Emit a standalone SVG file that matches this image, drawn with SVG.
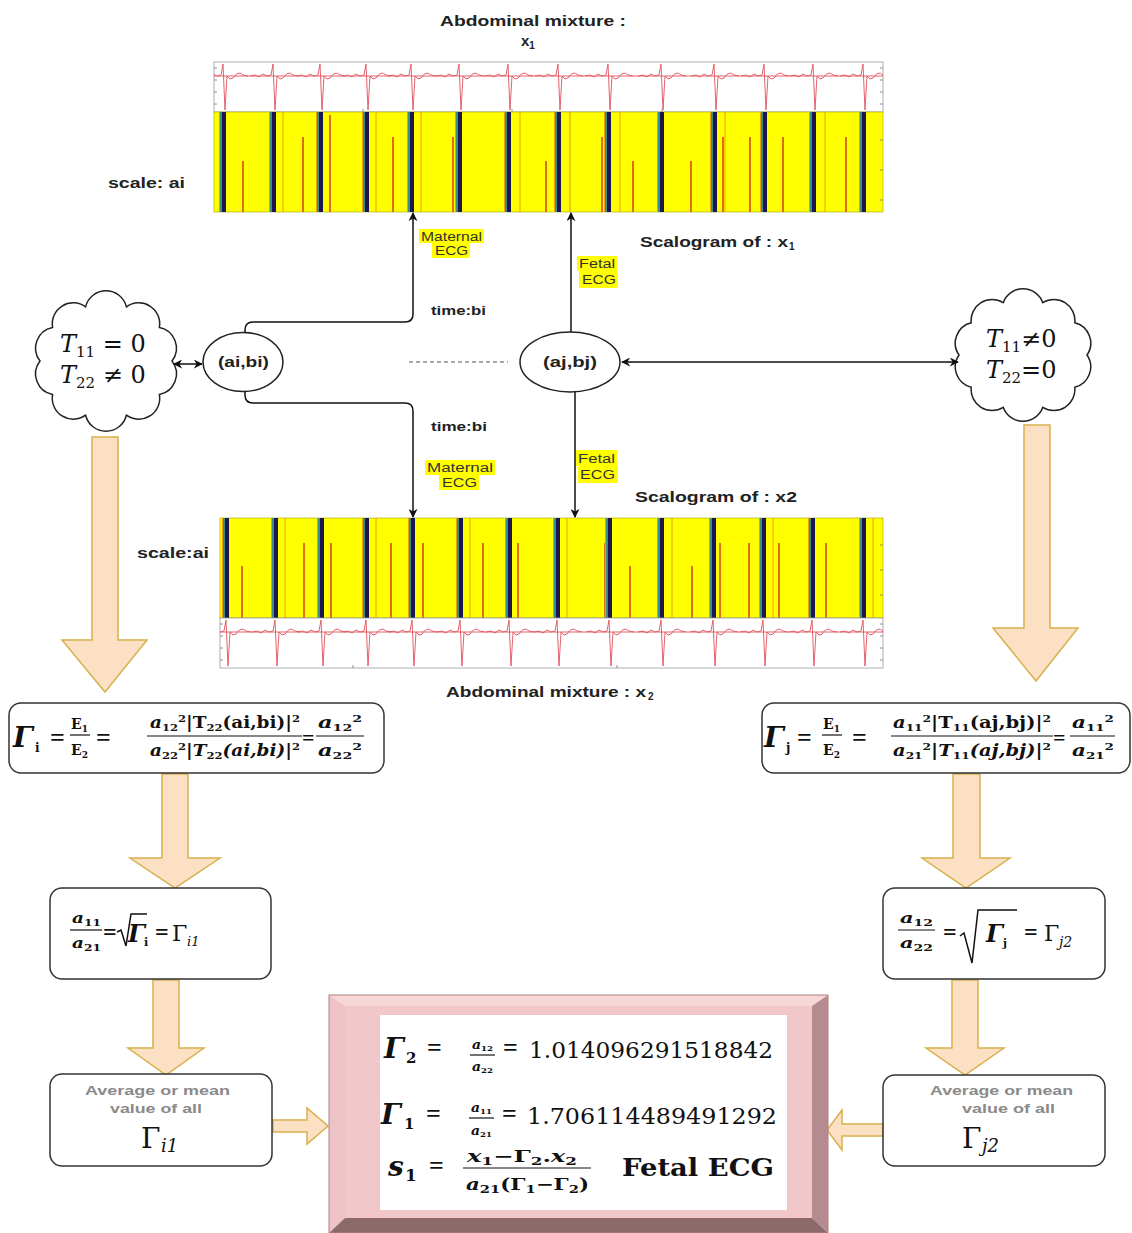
<svg xmlns="http://www.w3.org/2000/svg" xmlns:xlink="http://www.w3.org/1999/xlink" width="1132" height="1233" viewBox="0 0 1132 1233">
<style>
.lbl{font-family:"Liberation Sans",Arial,sans-serif;font-weight:bold;fill:#222}
.sm{font-family:"Liberation Sans",Arial,sans-serif;font-size:12px;fill:#333}
.gr{font-family:"Liberation Sans",Arial,sans-serif;font-weight:bold;font-size:13px;fill:#8a8a8a}
.m{font-family:"DejaVu Serif","Liberation Serif",serif;fill:#111}
.eq{font-family:"Liberation Serif","DejaVu Serif",serif;font-weight:bold;fill:#111}
.mb{font-family:"DejaVu Serif","Liberation Serif",serif;font-weight:bold;fill:#111}
.mbi{font-family:"DejaVu Serif","Liberation Serif",serif;font-weight:bold;font-style:italic;fill:#111}
.box{fill:#fff;stroke:#333;stroke-width:1.5}
.fl{stroke:#111;stroke-width:1.2}
.hl{fill:#ffff00}
.conn{fill:none;stroke:#111;stroke-width:1.5}
.barrow{fill:#fce0c4;stroke:#d8b04c;stroke-width:1.5}
.ecg{fill:none;stroke:#e0505a;stroke-width:0.9}
.rl{stroke:#d2321a;stroke-width:1.4}
.ol{stroke:#f0a000;stroke-width:1}
.panel{fill:#fff;stroke:#9a9a9a;stroke-width:0.8}
.cloud{fill:#fff;stroke:#222;stroke-width:1.5}
</style>
<defs>
<marker id="ah" viewBox="0 0 10 10" refX="9" refY="5" markerWidth="9" markerHeight="9" markerUnits="userSpaceOnUse" orient="auto-start-reverse">
<path d="M0,0 L10,5 L0,10 L3,5 Z" fill="#111"/>
</marker>
<clipPath id="clipTop"><rect x="214" y="62" width="669" height="50"/></clipPath>
<clipPath id="clipBot"><rect x="220" y="618" width="663" height="50"/></clipPath>
<path id="beat" class="ecg" d="M -24 1 L -19 0 L -15 2 L -11 -1 L -7 1 L -3 0 L -1 -11 L 1 35 L 3 1 L 6 4 L 9 3 Q 14 -5 19 0 L 24 1"/>
<g id="sbar">
<rect x="-5" y="0" width="1" height="100" fill="#f0a000"/>
<rect x="-4" y="0" width="2" height="100" fill="#3a8f80"/>
<rect x="-2" y="0" width="4" height="100" fill="#1d1650"/>
</g>
</defs>

<!-- Top plot: abdominal mixture x1 -->
<g id="plot-x1">
<text class="lbl" x="440" y="26" font-size="15" textLength="186" lengthAdjust="spacingAndGlyphs">Abdominal mixture :</text>
<text class="lbl" x="521" y="46" font-size="15">x<tspan font-size="10" dy="3">1</tspan></text>
<rect class="panel" x="214" y="62" width="669" height="50"/>
<g clip-path="url(#clipTop)">
<line x1="214" y1="76" x2="883" y2="76" class="ecg"/>
<use href="#beat" x="224" y="75"/><use href="#beat" x="274" y="75"/><use href="#beat" x="321" y="75"/><use href="#beat" x="367" y="75"/><use href="#beat" x="412" y="75"/><use href="#beat" x="460" y="75"/><use href="#beat" x="509" y="75"/><use href="#beat" x="559" y="75"/><use href="#beat" x="609" y="75"/><use href="#beat" x="662" y="75"/><use href="#beat" x="715" y="75"/><use href="#beat" x="765" y="75"/><use href="#beat" x="814" y="75"/><use href="#beat" x="864" y="75"/>
</g>
<path d="M214 68h3M214 80h3M214 92h3M214 104h3M883 68h-3M883 80h-3M883 92h-3M883 104h-3M363 112v-3M512 112v-3M662 112v-3" stroke="#777" stroke-width="0.8"/>
<rect x="214" y="112" width="669" height="100" fill="#ffff00" stroke="#a0a000" stroke-width="0.6"/>
<g>
<line class="rl" x1="243" y1="161" x2="243" y2="212"/><line class="rl" x1="303" y1="137" x2="303" y2="212"/><line class="rl" x1="330" y1="115" x2="330" y2="212"/><line class="rl" x1="393" y1="137" x2="393" y2="212"/><line class="rl" x1="453" y1="137" x2="453" y2="212"/><line class="rl" x1="546" y1="161" x2="546" y2="212"/><line class="rl" x1="602" y1="137" x2="602" y2="212"/><line class="rl" x1="633" y1="161" x2="633" y2="212"/><line class="rl" x1="691" y1="161" x2="691" y2="212"/><line class="rl" x1="723" y1="137" x2="723" y2="212"/><line class="rl" x1="750" y1="137" x2="750" y2="212"/><line class="rl" x1="783" y1="137" x2="783" y2="212"/><line class="rl" x1="846" y1="137" x2="846" y2="212"/>
<line class="ol" x1="283" y1="112" x2="283" y2="212"/><line class="ol" x1="376" y1="112" x2="376" y2="212"/><line class="ol" x1="421" y1="112" x2="421" y2="212"/><line class="ol" x1="520" y1="112" x2="520" y2="212"/><line class="ol" x1="620" y1="112" x2="620" y2="212"/><line class="ol" x1="725" y1="112" x2="725" y2="212"/><line class="ol" x1="825" y1="112" x2="825" y2="212"/>
<use href="#sbar" x="224" y="112"/><use href="#sbar" x="274" y="112"/><use href="#sbar" x="321" y="112"/><use href="#sbar" x="367" y="112"/><use href="#sbar" x="412" y="112"/><use href="#sbar" x="460" y="112"/><use href="#sbar" x="509" y="112"/><use href="#sbar" x="559" y="112"/><use href="#sbar" x="609" y="112"/><use href="#sbar" x="662" y="112"/><use href="#sbar" x="715" y="112"/><use href="#sbar" x="765" y="112"/><use href="#sbar" x="814" y="112"/><use href="#sbar" x="864" y="112"/>
<line x1="570" y1="112" x2="570" y2="212" stroke="#c8a000" stroke-width="1"/>
</g>
<path d="M883 140h-3M883 170h-3M883 200h-3" stroke="#777" stroke-width="0.8"/>
<text class="lbl" x="108" y="188" font-size="14" textLength="77" lengthAdjust="spacingAndGlyphs">scale: ai</text>
<text class="lbl" x="640" y="247" font-size="15" textLength="148" lengthAdjust="spacingAndGlyphs">Scalogram of : x</text>
<text class="lbl" x="789" y="250" font-size="10">1</text>
</g>

<!-- Bottom plot: abdominal mixture x2 -->
<g id="plot-x2">
<rect x="220" y="518" width="663" height="100" fill="#ffff00" stroke="#a0a000" stroke-width="0.6"/>
<g>
<line class="rl" x1="242" y1="566" x2="242" y2="618"/><line class="rl" x1="304" y1="543" x2="304" y2="618"/><line class="rl" x1="331" y1="543" x2="331" y2="618"/><line class="rl" x1="391" y1="543" x2="391" y2="618"/><line class="rl" x1="423" y1="543" x2="423" y2="618"/><line class="rl" x1="483" y1="543" x2="483" y2="618"/><line class="rl" x1="518" y1="543" x2="518" y2="618"/><line class="rl" x1="605" y1="543" x2="605" y2="618"/><line class="rl" x1="630" y1="566" x2="630" y2="618"/><line class="rl" x1="692" y1="566" x2="692" y2="618"/><line class="rl" x1="720" y1="543" x2="720" y2="618"/><line class="rl" x1="749" y1="543" x2="749" y2="618"/><line class="rl" x1="779" y1="543" x2="779" y2="618"/><line class="rl" x1="826" y1="543" x2="826" y2="618"/>
<line class="ol" x1="285" y1="518" x2="285" y2="618"/><line class="ol" x1="376" y1="518" x2="376" y2="618"/><line class="ol" x1="470" y1="518" x2="470" y2="618"/><line class="ol" x1="567" y1="518" x2="567" y2="618"/><line class="ol" x1="672" y1="518" x2="672" y2="618"/><line class="ol" x1="773" y1="518" x2="773" y2="618"/><line class="ol" x1="873" y1="518" x2="873" y2="618"/>
<use href="#sbar" x="227" y="518"/><use href="#sbar" x="276" y="518"/><use href="#sbar" x="322" y="518"/><use href="#sbar" x="367" y="518"/><use href="#sbar" x="413" y="518"/><use href="#sbar" x="461" y="518"/><use href="#sbar" x="510" y="518"/><use href="#sbar" x="558" y="518"/><use href="#sbar" x="610" y="518"/><use href="#sbar" x="662" y="518"/><use href="#sbar" x="714" y="518"/><use href="#sbar" x="764" y="518"/><use href="#sbar" x="813" y="518"/><use href="#sbar" x="864" y="518"/>
</g>
<path d="M883 545h-3M883 570h-3M883 595h-3" stroke="#777" stroke-width="0.8"/>
<rect class="panel" x="220" y="618" width="663" height="50"/>
<g clip-path="url(#clipBot)">
<line x1="220" y1="632" x2="883" y2="632" class="ecg"/>
<use href="#beat" x="227" y="631"/><use href="#beat" x="276" y="631"/><use href="#beat" x="322" y="631"/><use href="#beat" x="367" y="631"/><use href="#beat" x="413" y="631"/><use href="#beat" x="461" y="631"/><use href="#beat" x="510" y="631"/><use href="#beat" x="558" y="631"/><use href="#beat" x="610" y="631"/><use href="#beat" x="662" y="631"/><use href="#beat" x="714" y="631"/><use href="#beat" x="764" y="631"/><use href="#beat" x="813" y="631"/><use href="#beat" x="864" y="631"/>
</g>
<path d="M220 624h3M220 636h3M220 648h3M220 660h3M883 624h-3M883 636h-3M883 648h-3M883 660h-3M353 668v-3M617 668v-3" stroke="#777" stroke-width="0.8"/>
<text class="lbl" x="137" y="558" font-size="14" textLength="72" lengthAdjust="spacingAndGlyphs">scale:ai</text>
<text class="lbl" x="635" y="502" font-size="15" textLength="162" lengthAdjust="spacingAndGlyphs">Scalogram of : x2</text>
<text class="lbl" x="446" y="697" font-size="15" textLength="200" lengthAdjust="spacingAndGlyphs">Abdominal mixture : x</text>
<text class="lbl" x="648" y="700" font-size="10">2</text>
</g>

<!-- Clouds -->
<g id="cloud-left">
<path class="cloud" d="M172 361 A21 21 0 0 1 159.4 394.5 A21 21 0 0 1 126.4 415.2 A21 21 0 0 1 85.6 415.2 A21 21 0 0 1 52.6 394.5 A21 21 0 0 1 40 361 A21 21 0 0 1 52.6 327.5 A21 21 0 0 1 85.6 306.8 A21 21 0 0 1 126.4 306.8 A21 21 0 0 1 159.4 327.5 A21 21 0 0 1 172 361 Z"/>
<text class="m" x="60" y="352" font-size="24"><tspan font-style="italic">T</tspan><tspan font-size="15" dy="5">11</tspan><tspan dy="-5"> = 0</tspan></text>
<text class="m" x="60" y="383" font-size="24"><tspan font-style="italic">T</tspan><tspan font-size="15" dy="5">22</tspan><tspan dy="-5"> ≠ 0</tspan></text>
</g>
<g id="cloud-right">
<path class="cloud" d="M1087 355 A21 21 0 0 1 1074.8 387.3 A21 21 0 0 1 1042.8 407.3 A21 21 0 0 1 1003.2 407.3 A21 21 0 0 1 971.2 387.3 A21 21 0 0 1 959 355 A21 21 0 0 1 971.2 322.7 A21 21 0 0 1 1003.2 302.7 A21 21 0 0 1 1042.8 302.7 A21 21 0 0 1 1074.8 322.7 A21 21 0 0 1 1087 355 Z"/>
<text class="m" x="986" y="347" font-size="24"><tspan font-style="italic">T</tspan><tspan font-size="15" dy="5">11</tspan><tspan dy="-5">≠0</tspan></text>
<text class="m" x="986" y="378" font-size="24"><tspan font-style="italic">T</tspan><tspan font-size="15" dy="5">22</tspan><tspan dy="-5">=0</tspan></text>
</g>

<!-- Ellipse nodes -->
<g id="node-aibi">
<ellipse cx="243" cy="362" rx="40" ry="29.5" fill="#fff" stroke="#222" stroke-width="1.5"/>
<text class="lbl" x="218" y="367" font-size="14" textLength="51" lengthAdjust="spacingAndGlyphs">(ai,bi)</text>
</g>
<g id="node-ajbj">
<ellipse cx="570" cy="362" rx="50" ry="30" fill="#fff" stroke="#222" stroke-width="1.5"/>
<text class="lbl" x="543" y="367" font-size="14" textLength="54" lengthAdjust="spacingAndGlyphs">(aj,bj)</text>
</g>

<!-- Connectors -->
<g id="connectors">
<path class="conn" d="M 245 332.5 L 245 330 Q 245 322 253 322 L 405 322 Q 413 322 413 314 L 413 213" marker-end="url(#ah)"/>
<path class="conn" d="M 245 391.5 L 245 395 Q 245 403 253 403 L 405 403 Q 413 403 413 411 L 413 517" marker-end="url(#ah)"/>
<path class="conn" d="M 571 332 L 571 213" marker-end="url(#ah)"/>
<path class="conn" d="M 575 392 L 575 517" marker-end="url(#ah)"/>
<path class="conn" d="M 622 362 L 958 362" marker-start="url(#ah)" marker-end="url(#ah)"/>
<path class="conn" d="M 174 364 L 202 364" marker-start="url(#ah)" marker-end="url(#ah)" stroke-width="1.2"/>
<path d="M 409 362 L 508 362" fill="none" stroke="#555" stroke-width="1" stroke-dasharray="4 3"/>
</g>

<!-- Connector labels -->
<g id="labels">
<rect class="hl" x="419" y="229" width="65" height="14"/>
<rect class="hl" x="432" y="243" width="38" height="15"/>
<text class="sm" x="421" y="241" textLength="61" lengthAdjust="spacingAndGlyphs">Maternal</text>
<text class="sm" x="435" y="255" textLength="33" lengthAdjust="spacingAndGlyphs">ECG</text>
<rect class="hl" x="577" y="256" width="40" height="15"/>
<rect class="hl" x="579" y="271" width="39" height="17"/>
<text class="sm" x="579" y="268" textLength="36" lengthAdjust="spacingAndGlyphs">Fetal</text>
<text class="sm" x="582" y="284" textLength="34" lengthAdjust="spacingAndGlyphs">ECG</text>
<text class="lbl" x="431" y="315" font-size="12" textLength="55" lengthAdjust="spacingAndGlyphs">time:bi</text>
<text class="lbl" x="431" y="431" font-size="12" textLength="56" lengthAdjust="spacingAndGlyphs">time:bi</text>
<rect class="hl" x="425" y="460" width="70" height="15"/>
<rect class="hl" x="439" y="475" width="40" height="15"/>
<text class="sm" x="427" y="472" textLength="66" lengthAdjust="spacingAndGlyphs">Maternal</text>
<text class="sm" x="442" y="487" textLength="35" lengthAdjust="spacingAndGlyphs">ECG</text>
<rect class="hl" x="576" y="450" width="41" height="16"/>
<rect class="hl" x="578" y="466" width="40" height="17"/>
<text class="sm" x="578" y="463" textLength="37" lengthAdjust="spacingAndGlyphs">Fetal</text>
<text class="sm" x="580" y="479" textLength="35" lengthAdjust="spacingAndGlyphs">ECG</text>
</g>

<!-- Block arrows -->
<g id="block-arrows">
<polygon class="barrow" points="92,437 118,437 118,640 147,640 105,692 62,640 92,640"/>
<polygon class="barrow" points="1024,425 1050,425 1050,628 1078,628 1036,681 993,628 1024,628"/>
<polygon class="barrow" points="162,774 188,774 188,858 220,858 175,888 130,858 162,858"/>
<polygon class="barrow" points="953,774 980,774 980,858 1010,858 966,888 922,858 953,858"/>
<polygon class="barrow" points="153,980 179,980 179,1048 204,1048 166,1075 128,1048 153,1048"/>
<polygon class="barrow" points="952,980 978,980 978,1048 1004,1048 965,1075 926,1048 952,1048"/>
<polygon class="barrow" points="273,1120 307,1120 307,1108 328,1126 307,1144 307,1132 273,1132"/>
<polygon class="barrow" points="883,1124 842,1124 842,1110 827,1130 842,1150 842,1136 883,1136"/>
</g>

<!-- Formula box left -->
<g id="formula-left">
<rect class="box" x="9" y="703" width="375" height="70" rx="12"/>
<text class="mbi" x="13" y="747" font-size="28">Γ</text>
<text class="mb" x="35" y="752" font-size="12">i</text>
<text class="eq" x="50" y="746" font-size="26">=</text>
<text class="mb" x="71" y="729" font-size="14">E<tspan font-size="9" dy="3">1</tspan></text>
<line class="fl" x1="70" y1="735" x2="90" y2="735"/>
<text class="mb" x="71" y="755" font-size="14">E<tspan font-size="9" dy="3">2</tspan></text>
<text class="eq" x="96" y="746" font-size="26">=</text>
<text class="mb" x="150" y="728" font-size="16" textLength="150" lengthAdjust="spacingAndGlyphs"><tspan font-style="italic">a</tspan><tspan font-size="10" dy="3">12</tspan><tspan font-size="10" dy="-9">2</tspan><tspan dy="6">|T</tspan><tspan font-size="10" dy="3">22</tspan><tspan dy="-3">(ai,bi)|</tspan><tspan font-size="10" dy="-6">2</tspan></text>
<line class="fl" x1="147" y1="736" x2="302" y2="736"/>
<text class="mb" x="150" y="756" font-size="16" textLength="150" lengthAdjust="spacingAndGlyphs"><tspan font-style="italic">a</tspan><tspan font-size="10" dy="3">22</tspan><tspan font-size="10" dy="-9">2</tspan><tspan dy="6">|</tspan><tspan font-style="italic">T</tspan><tspan font-size="10" dy="3">22</tspan><tspan dy="-3" font-style="italic">(ai,bi)</tspan><tspan>|</tspan><tspan font-size="10" dy="-6">2</tspan></text>
<text class="eq" x="302" y="745" font-size="22">=</text>
<text class="mb" x="318" y="728" font-size="16" textLength="44" lengthAdjust="spacingAndGlyphs"><tspan font-style="italic">a</tspan><tspan font-size="10" dy="3">12</tspan><tspan font-size="10" dy="-9">2</tspan></text>
<line class="fl" x1="316" y1="736" x2="364" y2="736"/>
<text class="mb" x="318" y="756" font-size="16" textLength="44" lengthAdjust="spacingAndGlyphs"><tspan font-style="italic">a</tspan><tspan font-size="10" dy="3">22</tspan><tspan font-size="10" dy="-9">2</tspan></text>
</g>

<!-- Formula box right -->
<g id="formula-right">
<rect class="box" x="762" y="703" width="368" height="70" rx="12"/>
<text class="mbi" x="764" y="747" font-size="28">Γ</text>
<text class="mb" x="786" y="752" font-size="12">j</text>
<text class="eq" x="797" y="746" font-size="26">=</text>
<text class="mb" x="823" y="729" font-size="14">E<tspan font-size="9" dy="3">1</tspan></text>
<line class="fl" x1="822" y1="735" x2="842" y2="735"/>
<text class="mb" x="823" y="755" font-size="14">E<tspan font-size="9" dy="3">2</tspan></text>
<text class="eq" x="852" y="746" font-size="26">=</text>
<text class="mb" x="893" y="728" font-size="16" textLength="158" lengthAdjust="spacingAndGlyphs"><tspan font-style="italic">a</tspan><tspan font-size="10" dy="3">11</tspan><tspan font-size="10" dy="-9">2</tspan><tspan dy="6">|T</tspan><tspan font-size="10" dy="3">11</tspan><tspan dy="-3">(aj,bj)|</tspan><tspan font-size="10" dy="-6">2</tspan></text>
<line class="fl" x1="891" y1="736" x2="1053" y2="736"/>
<text class="mb" x="893" y="756" font-size="16" textLength="158" lengthAdjust="spacingAndGlyphs"><tspan font-style="italic">a</tspan><tspan font-size="10" dy="3">21</tspan><tspan font-size="10" dy="-9">2</tspan><tspan dy="6">|</tspan><tspan font-style="italic">T</tspan><tspan font-size="10" dy="3">11</tspan><tspan dy="-3" font-style="italic">(aj,bj)</tspan><tspan>|</tspan><tspan font-size="10" dy="-6">2</tspan></text>
<text class="eq" x="1053" y="745" font-size="22">=</text>
<text class="mb" x="1072" y="728" font-size="16" textLength="42" lengthAdjust="spacingAndGlyphs"><tspan font-style="italic">a</tspan><tspan font-size="10" dy="3">11</tspan><tspan font-size="10" dy="-9">2</tspan></text>
<line class="fl" x1="1070" y1="736" x2="1115" y2="736"/>
<text class="mb" x="1072" y="756" font-size="16" textLength="42" lengthAdjust="spacingAndGlyphs"><tspan font-style="italic">a</tspan><tspan font-size="10" dy="3">21</tspan><tspan font-size="10" dy="-9">2</tspan></text>
</g>

<!-- Middle boxes -->
<g id="sqrt-left">
<rect class="box" x="50" y="888" width="221" height="91" rx="12"/>
<text class="mb" x="72" y="923" font-size="15" textLength="29" lengthAdjust="spacingAndGlyphs"><tspan font-style="italic">a</tspan><tspan font-size="10" dy="3">11</tspan></text>
<line class="fl" x1="70" y1="930" x2="102" y2="930"/>
<text class="mb" x="72" y="948" font-size="15" textLength="29" lengthAdjust="spacingAndGlyphs"><tspan font-style="italic">a</tspan><tspan font-size="10" dy="3">21</tspan></text>
<text class="eq" x="103" y="940" font-size="24">=</text>
<path d="M117 932 L121 930 L126 946 L131 914 L147 914" fill="none" stroke="#111" stroke-width="1.5"/>
<text class="mbi" x="128" y="942" font-size="24">Γ</text>
<text class="mb" x="144" y="946" font-size="11">i</text>
<text class="eq" x="155" y="940" font-size="24">=</text>
<text class="m" x="172" y="941" font-size="22">Γ</text>
<text class="m" x="187" y="946" font-size="13" font-style="italic">i1</text>
</g>
<g id="sqrt-right">
<rect class="box" x="883" y="888" width="222" height="91" rx="12"/>
<text class="mb" x="900" y="923" font-size="15" textLength="33" lengthAdjust="spacingAndGlyphs"><tspan font-style="italic">a</tspan><tspan font-size="10" dy="3">12</tspan></text>
<line class="fl" x1="898" y1="930" x2="935" y2="930"/>
<text class="mb" x="900" y="948" font-size="15" textLength="33" lengthAdjust="spacingAndGlyphs"><tspan font-style="italic">a</tspan><tspan font-size="10" dy="3">22</tspan></text>
<text class="eq" x="943" y="940" font-size="24">=</text>
<path d="M960 936 L964 933 L972 963 L978 910 L1017 910" fill="none" stroke="#111" stroke-width="1.5"/>
<text class="mbi" x="986" y="942" font-size="24">Γ</text>
<text class="mb" x="1003" y="947" font-size="11">j</text>
<text class="eq" x="1024" y="940" font-size="24">=</text>
<text class="m" x="1044" y="941" font-size="22">Γ</text>
<text class="m" x="1059" y="947" font-size="14" font-style="italic">j2</text>
</g>

<!-- Bottom side boxes -->
<g id="mean-left">
<rect class="box" x="50" y="1074" width="222" height="92" rx="12"/>
<text class="gr" x="85" y="1095" textLength="145" lengthAdjust="spacingAndGlyphs">Average or mean</text>
<text class="gr" x="110" y="1113" textLength="92" lengthAdjust="spacingAndGlyphs">value of all</text>
<text class="m" x="141" y="1148" font-size="28">Γ</text>
<text class="m" x="161" y="1152" font-size="18" font-style="italic">i1</text>
</g>
<g id="mean-right">
<rect class="box" x="883" y="1075" width="222" height="91" rx="12"/>
<text class="gr" x="930" y="1095" textLength="143" lengthAdjust="spacingAndGlyphs">Average or mean</text>
<text class="gr" x="962" y="1113" textLength="93" lengthAdjust="spacingAndGlyphs">value of all</text>
<text class="m" x="962" y="1148" font-size="28">Γ</text>
<text class="m" x="982" y="1152" font-size="18" font-style="italic">j2</text>
</g>

<!-- Result box -->
<g id="result">
<polygon points="329,995 828,995 812,1006 345,1006" fill="#f6d6d6"/>
<polygon points="329,995 345,1006 345,1218 329,1233" fill="#eec3c5"/>
<polygon points="828,995 828,1233 812,1218 812,1006" fill="#b58b90"/>
<polygon points="329,1233 345,1218 812,1218 828,1233" fill="#8c6a6c"/>
<rect x="345" y="1006" width="467" height="212" fill="#f2c7c9"/>
<rect x="329" y="995" width="499" height="238" fill="none" stroke="#b08080" stroke-width="1"/>
<rect x="380" y="1015" width="407" height="195" fill="#fff"/>
<text class="mbi" x="384" y="1058" font-size="28">Γ</text>
<text class="mb" x="406" y="1063" font-size="15">2</text>
<text class="eq" x="427" y="1056" font-size="26">=</text>
<text class="mb" x="472" y="1049" font-size="13" textLength="21" lengthAdjust="spacingAndGlyphs"><tspan font-style="italic">a</tspan><tspan font-size="8" dy="2">12</tspan></text>
<line class="fl" x1="470" y1="1055" x2="495" y2="1055"/>
<text class="mb" x="472" y="1071" font-size="13" textLength="21" lengthAdjust="spacingAndGlyphs"><tspan font-style="italic">a</tspan><tspan font-size="8" dy="2">22</tspan></text>
<text class="eq" x="503" y="1056" font-size="26">=</text>
<text class="m" x="529" y="1058" font-size="23" textLength="244" lengthAdjust="spacingAndGlyphs">1.014096291518842</text>
<text class="mbi" x="381" y="1124" font-size="28">Γ</text>
<text class="mb" x="404" y="1129" font-size="15">1</text>
<text class="eq" x="426" y="1122" font-size="26">=</text>
<text class="mb" x="471" y="1112" font-size="13" textLength="21" lengthAdjust="spacingAndGlyphs"><tspan font-style="italic">a</tspan><tspan font-size="8" dy="2">11</tspan></text>
<line class="fl" x1="469" y1="1118" x2="494" y2="1118"/>
<text class="mb" x="471" y="1135" font-size="13" textLength="21" lengthAdjust="spacingAndGlyphs"><tspan font-style="italic">a</tspan><tspan font-size="8" dy="2">21</tspan></text>
<text class="eq" x="502" y="1122" font-size="26">=</text>
<text class="m" x="527" y="1124" font-size="23" textLength="250" lengthAdjust="spacingAndGlyphs">1.706114489491292</text>
<text class="mbi" x="388" y="1176" font-size="28">s</text>
<text class="mb" x="405" y="1181" font-size="17">1</text>
<text class="eq" x="429" y="1174" font-size="26">=</text>
<text class="mb" x="467" y="1162" font-size="16" textLength="110" lengthAdjust="spacingAndGlyphs"><tspan font-style="italic">x</tspan><tspan font-size="11" dy="3">1</tspan><tspan dy="-3">−Γ</tspan><tspan font-size="11" dy="3">2</tspan><tspan dy="-3">.</tspan><tspan font-style="italic">x</tspan><tspan font-size="11" dy="3">2</tspan></text>
<line class="fl" x1="463" y1="1168" x2="591" y2="1168"/>
<text class="mb" x="466" y="1190" font-size="16" textLength="123" lengthAdjust="spacingAndGlyphs"><tspan font-style="italic">a</tspan><tspan font-size="11" dy="3">21</tspan><tspan dy="-3">(Γ</tspan><tspan font-size="11" dy="3">1</tspan><tspan dy="-3">−Γ</tspan><tspan font-size="11" dy="3">2</tspan><tspan dy="-3">)</tspan></text>
<text class="mb" x="622" y="1176" font-size="25" textLength="152" lengthAdjust="spacingAndGlyphs">Fetal ECG</text>
</g>
</svg>
